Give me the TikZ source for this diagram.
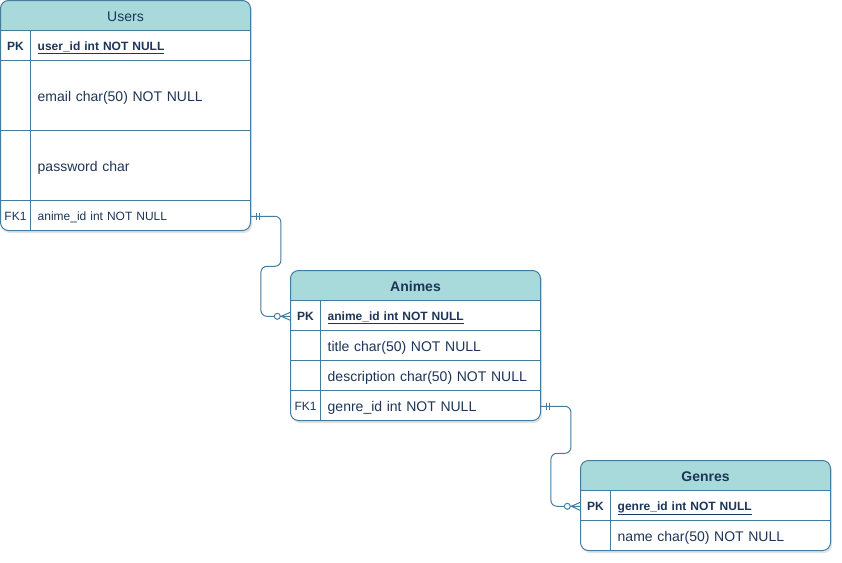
\documentclass[tikz,border=0pt]{standalone}
\usepackage{fontspec}
\setmainfont{Liberation Sans}
\usetikzlibrary{shadows}
\definecolor{erfill}{HTML}{A8DADC}
\definecolor{erline}{HTML}{457B9D}
\definecolor{ertext}{HTML}{1D3557}

\begin{document}
\begin{tikzpicture}[x=1pt, y=-1pt,
    body/.style={fill=white, rounded corners=8pt, drop shadow={opacity=0.22, shadow xshift=1.5pt, shadow yshift=-2.5pt}},
    frame/.style={draw=erline, line width=1pt, rounded corners=8pt},
    grid/.style={draw=erline, line width=1pt},
    head/.style={text=ertext, font=\fontsize{14}{16}\selectfont, yshift=-0.8pt},
    fld/.style={anchor=west, minimum width=220pt, text width=206pt, inner xsep=7pt, inner ysep=0pt, align=left, text=ertext, font=\fontsize{14}{16}\selectfont, text height=10pt, text depth=0pt, yshift=-0.8pt},
    pkfld/.style={fld, font=\fontsize{12}{14}\selectfont\bfseries, text height=8.6pt},
    fkfld/.style={fld, font=\fontsize{12}{14}\selectfont, text height=8.6pt},
    key/.style={minimum width=30pt, minimum height=30pt, inner sep=0pt, text=ertext, font=\fontsize{12}{14}\selectfont\bfseries, text height=8.6pt, text depth=0pt, yshift=-0.8pt},
    fkkey/.style={key, font=\fontsize{12}{14}\selectfont},
    rel/.style={draw=erline, line width=1pt, rounded corners=6pt}]
    \useasboundingbox (0,0) rectangle (842,562);

    % Users
    \fill[body] (0.5,0.5) rectangle (250.5,230.5);
    \fill[erfill, rounded corners=8pt] (0.5,0.5) rectangle (250.5,30.5);
    \fill[erfill] (0.5,15) rectangle (250.5,30.5);
    \draw[grid] (30.5,30.5) -- (30.5,230.5);
    \draw[grid] (0.5,30.5) -- (250.5,30.5);
    \draw[grid] (0.5,60.5) -- (250.5,60.5);
    \draw[grid] (0.5,130.5) -- (250.5,130.5);
    \draw[grid] (0.5,200.5) -- (250.5,200.5);
    \draw[frame] (0.5,0.5) rectangle (250.5,230.5);
    \node[head] (users) at (125.5,15.5) {Users};
    \node[key] (upk) at (15.5,45.5) {PK};
    \node[pkfld] (uid) at (30.5,45.5) {\underline{user\_id int NOT NULL}};
    \node[fld] (umail) at (30.5,95.5) {email char(50) NOT NULL};
    \node[fld] (upass) at (30.5,165.5) {password char};
    \node[fkkey] (ufkkey) at (15.5,215.5) {FK1};
    \node[fkfld] (ufk) at (30.5,215.5) {anime\_id int NOT NULL};

    % Animes
    \fill[body] (290.5,270.5) rectangle (540.5,420.5);
    \fill[erfill, rounded corners=8pt] (290.5,270.5) rectangle (540.5,300.5);
    \fill[erfill] (290.5,285) rectangle (540.5,300.5);
    \draw[grid] (320.5,300.5) -- (320.5,420.5);
    \draw[grid] (290.5,300.5) -- (540.5,300.5);
    \draw[grid] (290.5,330.5) -- (540.5,330.5);
    \draw[grid] (290.5,360.5) -- (540.5,360.5);
    \draw[grid] (290.5,390.5) -- (540.5,390.5);
    \draw[frame] (290.5,270.5) rectangle (540.5,420.5);
    \node[head, font=\fontsize{14}{16}\selectfont\bfseries] (animes) at (415.5,285.5) {Animes};
    \node[key] (apk) at (305.5,315.5) {PK};
    \node[pkfld] (aid) at (320.5,315.5) {\underline{anime\_id int NOT NULL}};
    \node[fld] (atitle) at (320.5,345.5) {title char(50) NOT NULL};
    \node[fld] (adesc) at (320.5,375.5) {description char(50) NOT NULL};
    \node[fkkey] (afkkey) at (305.5,405.5) {FK1};
    \node[fld] (afk) at (320.5,405.5) {genre\_id int NOT NULL};

    % Genres
    \fill[body] (580.5,460.5) rectangle (830.5,550.5);
    \fill[erfill, rounded corners=8pt] (580.5,460.5) rectangle (830.5,490.5);
    \fill[erfill] (580.5,475) rectangle (830.5,490.5);
    \draw[grid] (610.5,490.5) -- (610.5,550.5);
    \draw[grid] (580.5,490.5) -- (830.5,490.5);
    \draw[grid] (580.5,520.5) -- (830.5,520.5);
    \draw[frame] (580.5,460.5) rectangle (830.5,550.5);
    \node[head, font=\fontsize{14}{16}\selectfont\bfseries] (genres) at (705.5,475.5) {Genres};
    \node[key] (gpk) at (595.5,505.5) {PK};
    \node[pkfld] (gid) at (610.5,505.5) {\underline{genre\_id int NOT NULL}};
    \node[fld] (gname) at (610.5,535.5) {name char(50) NOT NULL};

    % users-animes
    \draw[rel] (ufk.east) -- ++(30,0) -- ++(0,50) -- ++(-20,0) |- (apk.west);
    \draw[grid] ([xshift=6pt, yshift=3.5pt]ufk.east) -- ([xshift=6pt, yshift=-3.5pt]ufk.east);
    \draw[grid] ([xshift=8.5pt, yshift=3.5pt]ufk.east) -- ([xshift=8.5pt, yshift=-3.5pt]ufk.east);
    \draw[grid] ([xshift=-9pt]apk.west) -- ([yshift=4pt]apk.west);
    \draw[grid] ([xshift=-9pt]apk.west) -- ([yshift=-4pt]apk.west);
    \draw[grid, fill=white] ([xshift=-13pt]apk.west) circle (3pt);

    % animes-genres
    \draw[rel] (afk.east) -- ++(30,0) -- ++(0,47) -- ++(-20,0) |- (gpk.west);
    \draw[grid] ([xshift=6pt, yshift=3.5pt]afk.east) -- ([xshift=6pt, yshift=-3.5pt]afk.east);
    \draw[grid] ([xshift=8.5pt, yshift=3.5pt]afk.east) -- ([xshift=8.5pt, yshift=-3.5pt]afk.east);
    \draw[grid] ([xshift=-9pt]gpk.west) -- ([yshift=4pt]gpk.west);
    \draw[grid] ([xshift=-9pt]gpk.west) -- ([yshift=-4pt]gpk.west);
    \draw[grid, fill=white] ([xshift=-13pt]gpk.west) circle (3pt);
\end{tikzpicture}
\end{document}
